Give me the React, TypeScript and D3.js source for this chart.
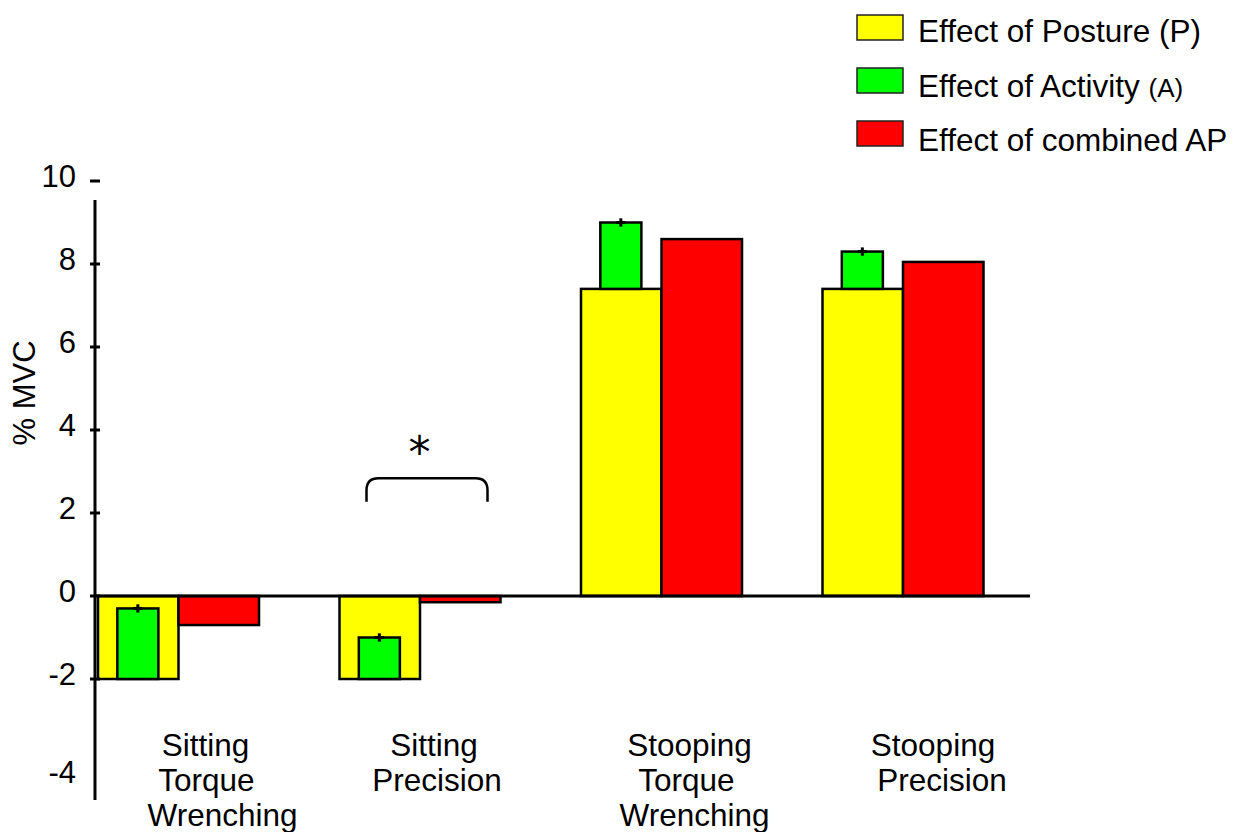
import * as d3 from "d3";
import React from "react";

// data
const categories = [
  ["Sitting", "Torque", "Wrenching"],
  ["Sitting", "Precision"],
  ["Stooping", "Torque", "Wrenching"],
  ["Stooping", "Precision"],
];
const posture = [-2, -2, 7.4, 7.4];
const activity = [1.7, 1.0, 1.6, 0.9];
const activityErr = [0.1, 0.1, 0.1, 0.1];
const combined = [-0.7, -0.15, 8.6, 8.05];
const yTicks = [10, 8, 6, 4, 2, 0, -2, -4];
const tickMarks = [10, 8, 6, 4, 2, 0, -2];
const legendItems = [
  { main: "Effect of Posture (P)", small: "", color: "#ffff00" },
  { main: "Effect of Activity ", small: "(A)", color: "#00ff00" },
  { main: "Effect of combined AP", small: "", color: "#ff0000" },
];

const FONT = "'Liberation Sans', Arial, sans-serif";
const W = 1242;
const H = 832;

// small per-line horizontal nudges for the category labels
const labelDx = [
  [27, 28, 44],
  [14, 17],
  [28, 25, 33],
  [30, 39],
];

export default function App() {
  const keys = categories.map((c) => c.join(" "));
  const x = d3.scaleBand().domain(keys).range([98, 983.5]).paddingInner(1 / 3).paddingOuter(0);
  const sub = d3.scaleBand().domain(["P", "AP"]).range([0, x.bandwidth()]);
  const y = d3.scaleLinear().domain([-4, 10]).range([762, 181]);
  const half = sub.bandwidth();

  const rect = (x0: number, v0: number, w: number, v1: number) => ({
    x: x0,
    y: Math.min(y(v0), y(v1)),
    width: w,
    height: Math.abs(y(v0) - y(v1)),
  });

  const g2 = x(keys[1])!;
  const bTop = y(2.84);
  const bBot = y(2.27);

  return (
    <div style={{ position: "absolute", left: 0, top: 0 }}>
      <svg width={W} height={H} style={{ display: "block", background: "#fff" }} fontFamily={FONT}>
        {/* bars */}
        {keys.map((k, i) => {
          const gx = x(k)!;
          const p = rect(gx + sub("P")!, 0, half, posture[i]);
          const top = posture[i] + activity[i];
          const a = rect(gx + sub("P")! + half * 0.24, posture[i], half * 0.51, top);
          const c = rect(gx + sub("AP")!, 0, half, combined[i]);
          const cx = a.x + a.width / 2;
          return (
            <g key={k} stroke="#000" strokeWidth={2.5}>
              <rect {...p} fill="#ffff00" />
              <rect {...a} fill="#00ff00" />
              <rect {...c} fill="#ff0000" />
              <line x1={cx - 4.5} x2={cx + 4.5} y1={y(top)} y2={y(top)} strokeWidth={3} />
              <line x1={cx} x2={cx} y1={y(top + activityErr[i])} y2={y(top - activityErr[i])} strokeWidth={3} />
            </g>
          );
        })}

        {/* zero line */}
        <line x1={95} x2={1030} y1={y(0)} y2={y(0)} stroke="#000" strokeWidth={3} />

        {/* y axis */}
        <line x1={95} x2={95} y1={200} y2={800} stroke="#000" strokeWidth={3} />
        {tickMarks.map((t) => (
          <line key={t} x1={90} x2={100} y1={y(t)} y2={y(t)} stroke="#000" strokeWidth={3} />
        ))}
        {yTicks.map((t) => (
          <text key={t} x={76} y={y(t) + 5.5 + (t === -4 ? 15 : 0)} textAnchor="end" fontSize={31}>
            {t}
          </text>
        ))}
        <text transform={`translate(35, 393) rotate(-90)`} textAnchor="middle" fontSize={31}>
          % MVC
        </text>

        {/* category labels */}
        {categories.map((lines, i) => {
          const cx = x(keys[i])! + x.bandwidth() / 2;
          return lines.map((ln, j) => (
            <text key={i + "-" + j} x={cx + labelDx[i][j]} y={756 + j * 35} textAnchor="middle" fontSize={31.5}>
              {ln}
            </text>
          ));
        })}

        {/* significance bracket */}
        <path
          d={`M${g2 + 27},${bBot} L${g2 + 27},${bTop + 12} Q${g2 + 27},${bTop} ${g2 + 39},${bTop} L${g2 + 136},${bTop} Q${g2 + 148},${bTop} ${g2 + 148},${bTop + 12} L${g2 + 148},${bBot}`}
          fill="none"
          stroke="#000"
          strokeWidth={2.5}
        />
        <text x={g2 + 80} y={468} textAnchor="middle" fontSize={44} fontFamily="'DejaVu Sans', sans-serif">
          *
        </text>

        {/* legend */}
        {legendItems.map((it, i) => (
          <g key={it.main} transform={`translate(857, ${15 + i * 53})`}>
            <rect x={0} y={0} width={46} height={25} fill={it.color} stroke="#222" strokeWidth={1.5} />
            <text x={61} y={27 + i * 1.5} fontSize={31.5}>
              {it.main}
              {it.small && <tspan fontSize={26}>{it.small}</tspan>}
            </text>
          </g>
        ))}
      </svg>
    </div>
  );
}
